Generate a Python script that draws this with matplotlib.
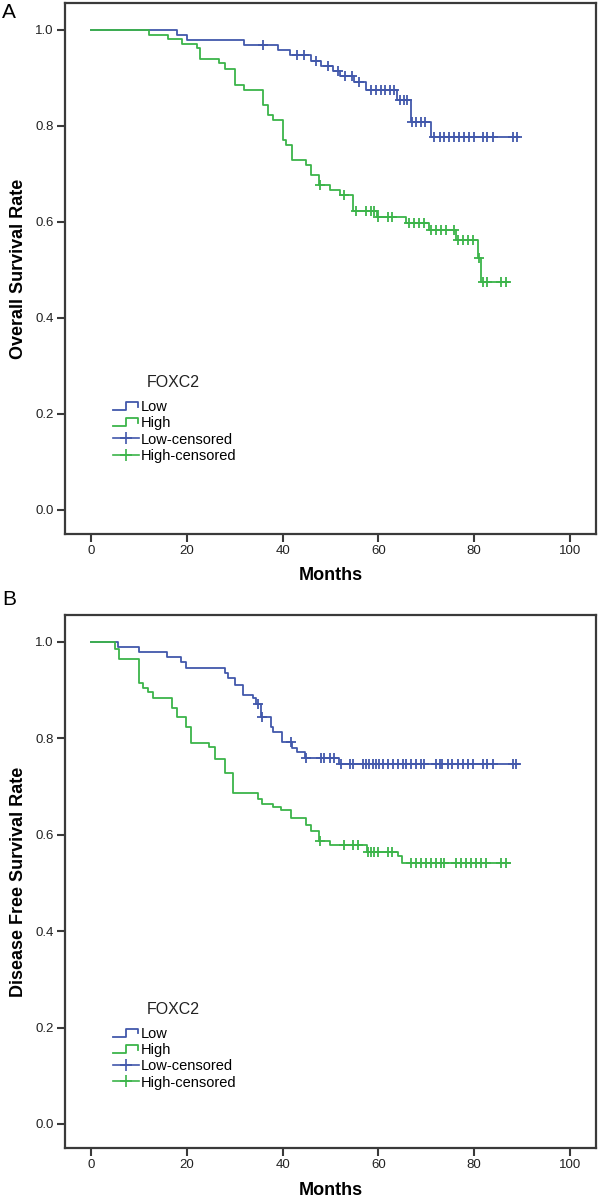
import numpy as np
import matplotlib
matplotlib.use('Agg')
import matplotlib.pyplot as plt
from matplotlib.lines import Line2D
from matplotlib.legend_handler import HandlerBase

plt.rcParams['font.family'] = ['Liberation Sans', 'DejaVu Sans']

BLUE = '#4258ab'
GREEN = '#3cb44a'
AXIS_COL = '#3a3a3a'

# ---- panel A: overall survival ----
os_low_t = [0, 17.9, 20.0, 31.9, 39.0, 41.5, 46.0, 48.0, 50.5, 52.0, 55.0, 57.5, 64.0, 66.8, 71.0]
os_low_s = [1.0, 0.990, 0.979, 0.968, 0.958, 0.947, 0.936, 0.925, 0.914, 0.903, 0.892, 0.875, 0.853, 0.808, 0.776]
os_low_cens = [35.9, 43.0, 44.5, 47.0, 49.5, 51.5, 53.0, 54.5, 56.0, 58.5, 59.5, 60.5, 61.5, 62.5, 63.3,
               64.5, 65.3, 66.0, 67.0, 67.9, 68.9, 69.8, 71.7, 72.8, 73.8, 74.8, 75.9, 76.9, 77.9,
               79.0, 80.0, 81.8, 82.8, 83.9, 88.1, 88.9]
os_low_end = 89.5

os_high_t = [0, 12.1, 16.0, 19.0, 22.0, 22.8, 26.8, 28.0, 30.0, 31.9, 35.9, 36.9, 37.9, 40.0, 40.7,
             42.0, 44.9, 46.0, 47.6, 50.0, 51.9, 54.8, 59.7, 65.8, 70.5, 76.2, 80.8, 81.5]
os_high_s = [1.0, 0.990, 0.981, 0.971, 0.962, 0.939, 0.930, 0.918, 0.885, 0.875, 0.844, 0.823, 0.8125,
             0.771, 0.760, 0.729, 0.719, 0.698, 0.677, 0.667, 0.656, 0.622, 0.611, 0.597, 0.583,
             0.5625, 0.524, 0.474]
os_high_cens = [47.9, 52.9, 55.4, 57.5, 58.5, 59.2, 60.0, 62.0, 62.9, 66.5, 67.5, 68.6, 69.6, 71.0,
                72.1, 73.1, 74.2, 75.9, 76.6, 77.6, 78.7, 79.7, 81.0, 81.8, 82.8, 85.6, 86.7]
os_high_end = 87.4

# ---- panel B: disease free survival ----
dfs_low_t = [0, 5.6, 10.0, 15.8, 18.8, 19.9, 27.9, 28.6, 30.0, 31.7, 33.8, 34.5, 35.5, 37.5, 38.0,
             39.9, 42.0, 43.0, 44.6, 51.7]
dfs_low_s = [1.0, 0.990, 0.980, 0.969, 0.958, 0.945, 0.935, 0.926, 0.910, 0.890, 0.883, 0.872, 0.844,
             0.823, 0.8125, 0.792, 0.781, 0.771, 0.760, 0.747]
dfs_low_cens = [34.8, 35.7, 41.8, 44.8, 48.1, 48.7, 49.8, 50.8, 52.2, 54.0, 54.7, 56.7, 57.5, 58.1,
                58.8, 59.5, 60.2, 60.9, 62.0, 63.0, 64.1, 65.1, 65.8, 66.8, 67.9, 68.9, 69.6, 72.1,
                72.8, 73.4, 74.5, 75.5, 76.6, 77.6, 78.7, 79.7, 81.8, 82.8, 83.9, 88.1, 88.8]
dfs_low_end = 89.5

dfs_high_t = [0, 4.9, 5.8, 9.9, 10.8, 11.9, 12.9, 16.8, 17.9, 19.9, 20.8, 24.7, 25.8, 27.9, 29.7,
              34.8, 35.7, 37.9, 39.7, 41.8, 44.9, 46.0, 47.5, 49.8, 57.6, 64.1, 65.0]
dfs_high_s = [1.0, 0.985, 0.965, 0.915, 0.905, 0.896, 0.883, 0.864, 0.844, 0.823, 0.790, 0.782, 0.758,
              0.728, 0.686, 0.674, 0.664, 0.657, 0.651, 0.635, 0.621, 0.608, 0.587, 0.578, 0.564,
              0.555, 0.541]
dfs_high_cens = [47.8, 52.9, 54.7, 55.7, 57.9, 58.5, 59.2, 59.9, 62.0, 62.9, 66.8, 67.9, 68.9, 70.0,
                 71.0, 72.1, 73.1, 73.8, 76.2, 77.3, 78.3, 79.4, 80.4, 81.5, 82.5, 85.6, 86.7]
dfs_high_end = 87.5

x_ticks = [0, 20, 40, 60, 80, 100]
y_ticks = [0.0, 0.2, 0.4, 0.6, 0.8, 1.0]


class StepHandler(HandlerBase):
    # little step icon like the SPSS legend
    def create_artists(self, legend, orig_handle, xdescent, ydescent, width, height, fontsize, trans):
        xs = np.array([0.0, 0.5, 0.5, 0.97, 0.97]) * width - xdescent
        ys = np.array([0.1, 0.1, 0.9, 0.9, 0.45]) * height - ydescent
        ln = Line2D(xs, ys, color=orig_handle.get_color(), lw=orig_handle.get_linewidth(), transform=trans)
        return [ln]


def km_curve(ax, t, s, cens, end, color):
    t = np.asarray(t)
    s = np.asarray(s)
    line, = ax.step(np.append(t, end), np.append(s, s[-1]), where='post', color=color, lw=1.3)
    idx = np.searchsorted(t, cens, side='right') - 1
    ax.plot(cens, s[idx], ls='none', marker='+', ms=7, mew=1.3, color=color)
    return line


def panel(ax, low, high, ylabel, leg_y, title_y):
    l_line = km_curve(ax, *low, BLUE)
    h_line = km_curve(ax, *high, GREEN)
    ax.set_xlim(-5.5, 105.5)
    ax.set_ylim(-0.05, 1.056)
    ax.set_xticks(x_ticks)
    ax.set_yticks(y_ticks)
    ax.set_yticklabels(['%.1f' % v for v in y_ticks])
    ax.tick_params(direction='out', length=6, width=1.5, color=AXIS_COL, labelsize=9.5, pad=2,
                   labelcolor='#222222')
    for sp in ax.spines.values():
        sp.set_color(AXIS_COL)
        sp.set_linewidth(1.6)
    ax.set_ylabel(ylabel, fontsize=13, fontweight='bold')
    ax.set_xlabel('Months', fontsize=13, fontweight='bold')
    ax.yaxis.label.set_va('center')
    ax.xaxis.label.set_va('center')
    ax.yaxis.set_label_coords(-0.088, 0.5)
    ax.xaxis.set_label_coords(0.5, -0.079)

    lc = Line2D([], [], color=BLUE, lw=1.2, marker='+', ms=9, mew=1.2)
    hc = Line2D([], [], color=GREEN, lw=1.2, marker='+', ms=9, mew=1.2)
    ax.text(0.154, title_y, 'FOXC2', transform=ax.transAxes, fontsize=11.5, va='center', ha='left',
            color='#222222')
    ax.legend([l_line, h_line, lc, hc], ['Low', 'High', 'Low-censored', 'High-censored'],
              handler_map={l_line: StepHandler(), h_line: StepHandler()},
              loc='upper left', bbox_to_anchor=(0.09, leg_y), frameon=False, borderpad=0,
              borderaxespad=0, fontsize=10.5, labelspacing=0.15, handlelength=1.8,
              handletextpad=0.1, numpoints=1)


fig = plt.figure(figsize=(6, 12), dpi=100)
ax_a = fig.add_axes([0.1083, 0.555, 0.885, 0.4425])
ax_b = fig.add_axes([0.1083, 0.0433, 0.885, 0.4442])

panel(ax_a, (os_low_t, os_low_s, os_low_cens, os_low_end),
      (os_high_t, os_high_s, os_high_cens, os_high_end),
      'Overall Survival Rate', 0.252, 0.286)
panel(ax_b, (dfs_low_t, dfs_low_s, dfs_low_cens, dfs_low_end),
      (dfs_high_t, dfs_high_s, dfs_high_cens, dfs_high_end),
      'Disease Free Survival Rate', 0.227, 0.259)

fig.text(0.004, 0.9975, 'A', fontsize=15, va='top', ha='left')
fig.text(0.004, 0.5085, 'B', fontsize=15, va='top', ha='left')

fig.savefig('out.png', dpi=100)
